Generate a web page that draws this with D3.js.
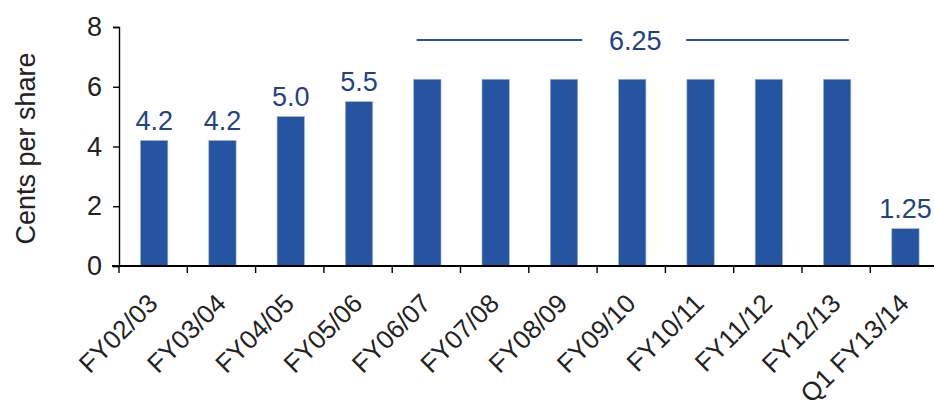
<!DOCTYPE html>
<html>
<head>
<meta charset="utf-8">
<script src="https://cdn.jsdelivr.net/npm/d3@7"></script>
<style>
  html, body { margin: 0; padding: 0; background: #fff; }
  svg { display: block; font-family: "Liberation Sans", Arial, sans-serif; }
</style>
</head>
<body>
<svg id="chart" width="934" height="400"></svg>
<script>
// Dividend per share, cents
const categories = ["FY02/03", "FY03/04", "FY04/05", "FY05/06", "FY06/07", "FY07/08",
                    "FY08/09", "FY09/10", "FY10/11", "FY11/12", "FY12/13", "Q1 FY13/14"];
const values = [4.2, 4.2, 5.0, 5.5, 6.25, 6.25, 6.25, 6.25, 6.25, 6.25, 6.25, 1.25];
const valueLabels = ["4.2", "4.2", "5.0", "5.5", null, null, null, null, null, null, null, "1.25"];
const yTicks = [0, 2, 4, 6, 8];
// Flat run of bars sharing one bracketed label
const flatGroup = { from: "FY06/07", to: "FY12/13", label: "6.25" };

const barColor = "#2555a0";
const labelColor = "#1f4486";
const textColor = "#222";

const svg = d3.select("#chart");
const left = 119, step = 68.3;
const x = d3.scaleBand().domain(categories).range([left, left + step * categories.length]).padding(0);
const y = d3.scaleLinear().domain([0, 8]).range([266, 27]);
const barW = x.bandwidth() * 0.4;

// Bars
svg.append("g").selectAll("rect").data(values).join("rect")
  .attr("x", (d, i) => x(categories[i]) + (x.bandwidth() - barW) / 2 + 1)
  .attr("y", d => y(d))
  .attr("width", barW)
  .attr("height", d => y(0) - y(d))
  .attr("fill", barColor)
  .attr("stroke", "#9db3d8")
  .attr("stroke-width", 0.6);

// Value labels
svg.append("g").selectAll("text").data(values.map((v, i) => ({ v, i })).filter(d => valueLabels[d.i]))
  .join("text")
  .attr("x", d => x(categories[d.i]) + x.bandwidth() / 2 + 1)
  .attr("y", d => y(d.v) - 10.5)
  .attr("text-anchor", "middle")
  .attr("font-size", 27)
  .attr("fill", labelColor)
  .text(d => valueLabels[d.i]);

// Bracket line with the shared label
const gx0 = x(flatGroup.from) + (x.bandwidth() - barW) / 2 + 1;
const gx1 = x(flatGroup.to) + (x.bandwidth() + barW) / 2 + 1;
const gy = 40;
const gmid = (gx0 + gx1) / 2 + 2;
const gap = 52;
const bracket = svg.append("g").attr("stroke", barColor).attr("stroke-width", 1.8);
bracket.append("line").attr("x1", gx0 + 3).attr("x2", gmid - gap).attr("y1", gy).attr("y2", gy);
bracket.append("line").attr("x1", gmid + gap).attr("x2", gx1 - 2).attr("y1", gy).attr("y2", gy);
svg.append("text")
  .attr("x", gmid + 1).attr("y", gy + 10)
  .attr("text-anchor", "middle")
  .attr("font-size", 27)
  .attr("fill", labelColor)
  .text(flatGroup.label);

// Y axis
const yAxis = svg.append("g")
  .attr("transform", `translate(${left},0)`)
  .call(d3.axisLeft(y).tickValues(yTicks).tickSize(6).tickPadding(11).tickFormat(d3.format("d")));
yAxis.select(".domain").attr("stroke", "#000").attr("stroke-width", 1.4);
yAxis.selectAll(".tick line").attr("stroke", "#000").attr("stroke-width", 1.4);
yAxis.selectAll(".tick text").attr("font-size", 27).attr("fill", textColor)
  .attr("font-family", "Liberation Sans, Arial, sans-serif");

// X axis: ticks on category boundaries
const xAxisG = svg.append("g").attr("transform", `translate(0,${y(0)})`);
xAxisG.append("line").attr("x1", left - 7).attr("x2", 934).attr("y1", 0).attr("y2", 0)
  .attr("stroke", "#000").attr("stroke-width", 2.2);
xAxisG.selectAll("line.tk").data(categories).join("line").attr("class", "tk")
  .attr("x1", d => x(d)).attr("x2", d => x(d)).attr("y1", 0).attr("y2", 7)
  .attr("stroke", "#000").attr("stroke-width", 1.4);
xAxisG.selectAll("text").data(categories).join("text")
  .attr("transform", d => `translate(${x(d) + x.bandwidth() / 2 + 6},${39}) rotate(-45)`)
  .attr("text-anchor", "end")
  .attr("font-size", 26)
  .attr("fill", textColor)
  .text(d => d);

// Axis title
svg.append("text")
  .attr("transform", `translate(35,${(y(0) + y(8)) / 2 + 2}) rotate(-90)`)
  .attr("text-anchor", "middle")
  .attr("font-size", 27)
  .attr("fill", textColor)
  .text("Cents per share");
</script>
</body>
</html>
